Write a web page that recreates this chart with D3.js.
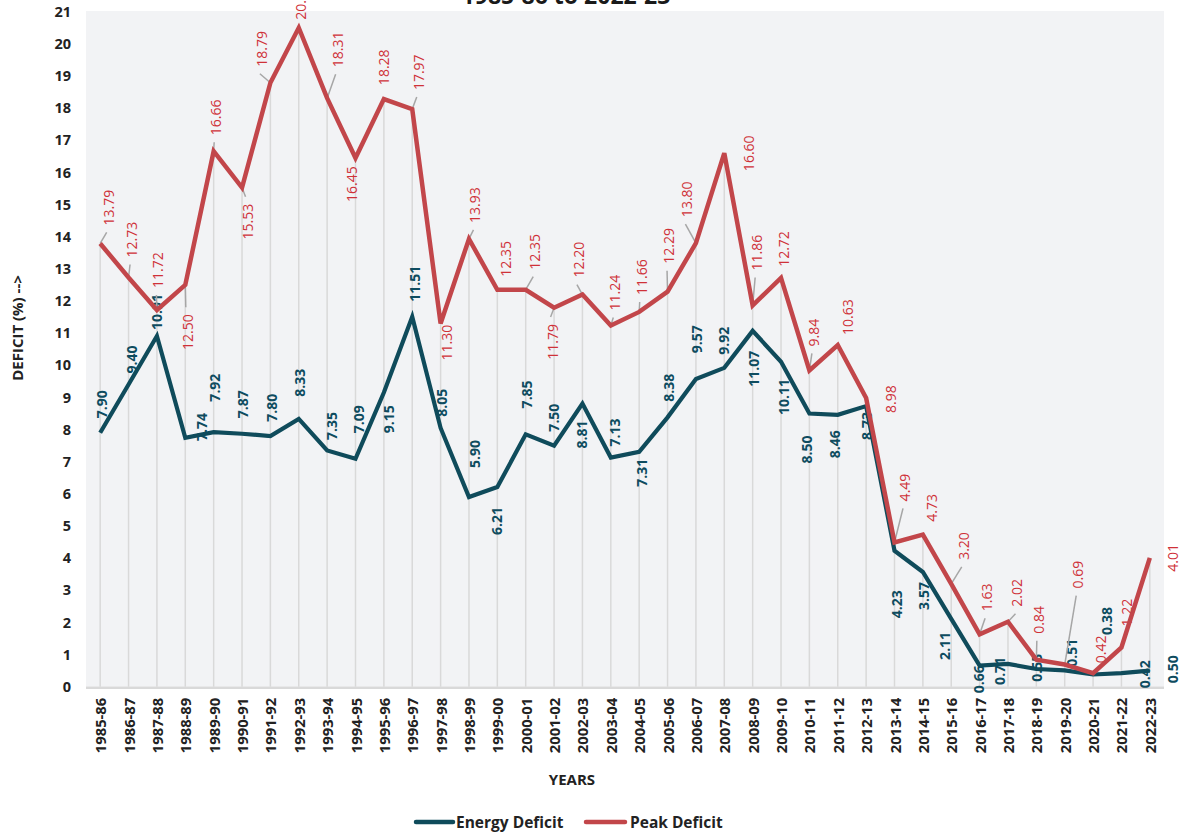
<!DOCTYPE html>
<html>
<head>
<meta charset="utf-8">
<script src="https://cdn.jsdelivr.net/npm/d3@7"></script>
<style>
  html, body { margin: 0; padding: 0; background: #ffffff; }
  svg { display: block; font-family: "Open Sans", "Noto Sans", sans-serif; }
</style>
</head>
<body>
<svg id="chart" width="1180" height="832"></svg>
<script>
// ---- data -------------------------------------------------------------
const years = [
  "1985-86","1986-87","1987-88","1988-89","1989-90","1990-91","1991-92","1992-93",
  "1993-94","1994-95","1995-96","1996-97","1997-98","1998-99","1999-00","2000-01",
  "2001-02","2002-03","2003-04","2004-05","2005-06","2006-07","2007-08","2008-09",
  "2009-10","2010-11","2011-12","2012-13","2013-14","2014-15","2015-16","2016-17",
  "2017-18","2018-19","2019-20","2020-21","2021-22","2022-23"
];
const energyDeficit = [
  7.90, 9.40, 10.91, 7.74, 7.92, 7.87, 7.80, 8.33, 7.35, 7.09,
  9.15, 11.51, 8.05, 5.90, 6.21, 7.85, 7.50, 8.81, 7.13, 7.31,
  8.38, 9.57, 9.92, 11.07, 10.11, 8.50, 8.46, 8.73, 4.23, 3.57,
  2.11, 0.66, 0.71, 0.55, 0.51, 0.38, 0.42, 0.50
];
const peakDeficit = [
  13.79, 12.73, 11.72, 12.50, 16.66, 15.53, 18.79, 20.50, 18.31, 16.45,
  18.28, 17.97, 11.30, 13.93, 12.35, 12.35, 11.79, 12.20, 11.24, 11.66,
  12.29, 13.80, 16.60, 11.86, 12.72, 9.84, 10.63, 8.98, 4.49, 4.73,
  3.20, 1.63, 2.02, 0.84, 0.69, 0.42, 1.22, 4.01
];
const yTickValues = [0,1,2,3,4,5,6,7,8,9,10,11,12,13,14,15,16,17,18,19,20,21];
const seriesNames = ["Energy Deficit", "Peak Deficit"];
const titleText = "1985-86 to 2022-23";

// ---- label layout (offset of the label's start from its point, px) ------
const energyLabelOffsets = [
  [1.5,-14.5],[3,-11],[0,-6],[16.5,3],[1.3,-30.5],[0,-15.5],[1.3,-14.3],[0.5,-22.3],[4.5,-10.5],[2.8,-25.5],
  [4.4,40.7],[2.7,-15],[0.4,-11.3],[6,-29],[-0.7,48],[1,-26],[-0.8,-14],[-0.8,45],[4,-11],[2.5,35],
  [0.7,-15.7],[0.7,-25.8],[-1,-13],[0.6,55.8],[2.2,53.2],[-2.8,50],[-2.8,43.5],[0,34],[2,67.6],[0.4,38],
  [-6.3,41],[-1.4,27.8],[-8,21],[0.3,12.7],[7,-3.6],[13.5,-39.5],[23.5,15],[22.5,12.7]
];
const peakLabelOffsets = [
  [8,-18],[3,-20],[1,-22],[2,65],[2,-16],[5,52],[-9,-16],[2,-8],[10,-31],[-4,44],
  [0,-14],[6,-19],[6,37],[6,-16],[8,-13],[9,-20],[-2,52],[-4,-17],[4,-15],[2,-17],
  [1,-28],[-9,-26],[24,18],[4,-35],[2,-11],[4,-24],[10,-10],[24,15],[10,-41],[9,-13],
  [12,-24],[7,-23],[9,-15],[2,-26],[13,-76],[7,-10],[5,-21],[22.5,14]
];
const peakLeaderIdx = [0,1,2,3,4,5,6,8,11,13,15,16,17,18,19,20,21,23,25,28,30,31,32,33,34,36];

// ---- styling ----------------------------------------------------------
const energyColor = "#0f4b5b";
const peakColor = "#c2464a";
const energyLabelColor = "#0e4c5f";
const peakLabelColor = "#cf3138";

const plot = { left: 86, right: 1164, top: 11.7, bottom: 686.7 };

const svg = d3.select("#chart");

const x = d3.scaleBand().domain(years).range([plot.left, plot.right]).padding(0);
const cx = d => x(d) + x.bandwidth() / 2;
const y = d3.scaleLinear().domain([0, 21]).range([plot.bottom, plot.top]);

// plot background
svg.append("rect")
  .attr("x", plot.left).attr("y", plot.top - 0.7)
  .attr("width", plot.right - plot.left).attr("height", plot.bottom - plot.top + 0.7)
  .attr("fill", "#f2f3f5");

// title (second line of the heading)
svg.append("text")
  .attr("x", 566).attr("y", 4)
  .attr("text-anchor", "middle")
  .attr("font-size", 23).attr("font-weight", 700)
  .attr("fill", "#1a1a1a")
  .text(titleText);

// drop lines from the higher series down to the axis
svg.append("g").selectAll("line")
  .data(years)
  .join("line")
  .attr("x1", d => cx(d)).attr("x2", d => cx(d))
  .attr("y1", (d, i) => y(Math.max(energyDeficit[i], peakDeficit[i])))
  .attr("y2", y(0))
  .attr("stroke", "#d9d9d9").attr("stroke-width", 1.5);

// x axis baseline
svg.append("line")
  .attr("x1", plot.left).attr("x2", plot.right)
  .attr("y1", y(0) + 1).attr("y2", y(0) + 1)
  .attr("stroke", "#d9d9d9").attr("stroke-width", 2.5);

// y axis
const yAxis = svg.append("g")
  .attr("transform", `translate(${plot.left},0)`)
  .call(d3.axisLeft(y).tickValues(yTickValues).tickSize(0).tickPadding(15).tickFormat(d3.format("d")));
yAxis.select(".domain").remove();
yAxis.selectAll("text")
  .attr("font-family", "\"Open Sans\", sans-serif")
  .attr("font-size", 14.5).attr("font-weight", 700).attr("fill", "#222");

// x axis
const xAxis = svg.append("g")
  .attr("transform", `translate(0,${plot.bottom})`)
  .call(d3.axisBottom(x).tickSize(0).tickPadding(0));
xAxis.select(".domain").remove();
xAxis.selectAll("text")
  .attr("font-family", "\"Open Sans\", sans-serif")
  .attr("font-size", 14.8).attr("font-weight", 700).attr("fill", "#222")
  .attr("text-anchor", "end")
  .attr("dy", null)
  .attr("dominant-baseline", "central")
  .attr("transform", "translate(0,11) rotate(-90)");

// axis titles
svg.append("text")
  .attr("transform", "translate(17,328) rotate(-90)")
  .attr("text-anchor", "middle").attr("dominant-baseline", "central")
  .attr("font-size", 15).attr("font-weight", 700).attr("fill", "#222")
  .text("DEFICIT (%) -->");
svg.append("text")
  .attr("x", 572).attr("y", 785)
  .attr("text-anchor", "middle")
  .attr("font-size", 15).attr("font-weight", 700).attr("fill", "#222")
  .text("YEARS");

const fmt = d3.format(".2f");

// data labels (rotated), drawn beneath the lines
function drawLabels(values, offsets, color, weight, leaders) {
  const g = svg.append("g");
  const leaderG = g.append("g");
  const labels = g.selectAll("text")
    .data(values)
    .join("text")
    .attr("transform", (v, i) =>
      `translate(${cx(years[i]) + offsets[i][0]},${y(v) + offsets[i][1]}) rotate(-90)`)
    .attr("text-anchor", "start")
    .attr("dominant-baseline", "central")
    .attr("font-size", 14).attr("font-weight", weight)
    .attr("fill", color)
    .text(v => fmt(v));
  labels.each(function (v, i) {
    if (!leaders.includes(i)) return;
    const len = this.getComputedTextLength();
    const px = cx(years[i]), py = y(v);
    const lx = px + offsets[i][0], ly = py + offsets[i][1];
    const ey = offsets[i][1] < 0 ? ly + 7 : ly - len - 7;
    leaderG.append("line")
      .attr("x1", px).attr("y1", py)
      .attr("x2", lx - 1.5).attr("y2", ey)
      .attr("stroke", "#a6a6a6").attr("stroke-width", 1.5);
  });
}
drawLabels(energyDeficit, energyLabelOffsets, energyLabelColor, 700, []);
drawLabels(peakDeficit, peakLabelOffsets, peakLabelColor, 400, peakLeaderIdx);

// series lines
const line = d3.line().x((v, i) => cx(years[i])).y(v => y(v));
svg.append("path")
  .datum(energyDeficit)
  .attr("d", line)
  .attr("fill", "none").attr("stroke", energyColor)
  .attr("stroke-width", 4.2).attr("stroke-linejoin", "miter").attr("stroke-linecap", "butt");
svg.append("path")
  .datum(peakDeficit)
  .attr("d", line)
  .attr("fill", "none").attr("stroke", peakColor)
  .attr("stroke-width", 4.5).attr("stroke-linejoin", "miter").attr("stroke-linecap", "butt");

// legend
const legend = svg.append("g");
const legendItems = [
  { name: seriesNames[0], color: energyColor, x1: 416, x2: 453, tx: 456 },
  { name: seriesNames[1], color: peakColor, x1: 586, x2: 625, tx: 630 }
];
legendItems.forEach(it => {
  legend.append("line")
    .attr("x1", it.x1).attr("x2", it.x2).attr("y1", 822).attr("y2", 822)
    .attr("stroke", it.color).attr("stroke-width", 4.5).attr("stroke-linecap", "round");
  legend.append("text")
    .attr("x", it.tx).attr("y", 822)
    .attr("dominant-baseline", "central")
    .attr("font-size", 15.5).attr("font-weight", 700).attr("fill", "#222")
    .text(it.name);
});
</script>
</body>
</html>
